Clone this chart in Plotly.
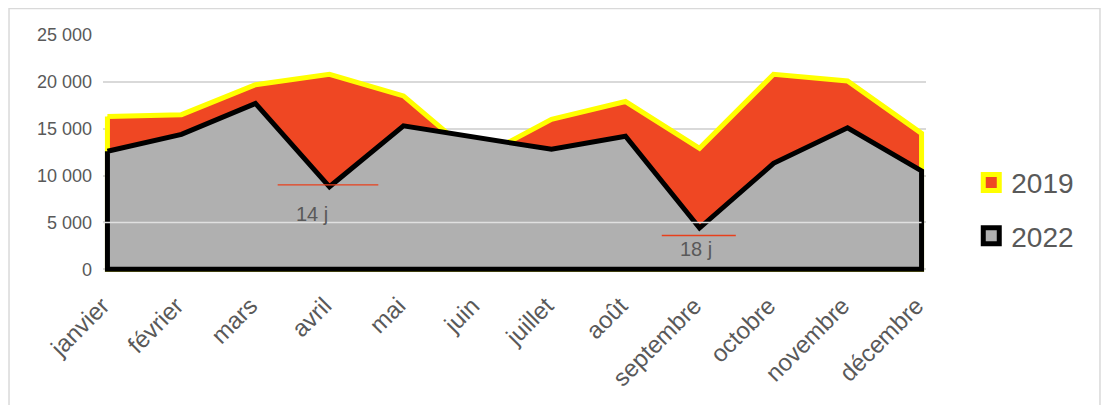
import plotly.graph_objects as go

months = ["janvier", "février", "mars", "avril", "mai", "juin", "juillet",
          "août", "septembre", "octobre", "novembre", "décembre"]
v2019 = [16300, 16500, 19700, 20800, 18500, 11800, 16000, 17900, 12900, 20800, 20100, 14500]
v2022 = [12600, 14400, 17700, 8800, 15300, 14000, 12800, 14200, 4400, 11300, 15100, 10500]
years = ["2019", "2022"]
gap_labels = ["14 j", "18 j"]

FONT = "Liberation Sans, Arial, sans-serif"
TXT = "#595959"
RED = "#EF4723"
YEL = "#FFFF00"
GREY = "#B0B0B0"

idx = list(range(len(months)))


def closed(vals):
    xs = idx + [idx[-1], idx[0], idx[0]]
    ys = vals + [0, 0, vals[0]]
    return xs, ys


fig = go.Figure()
x1, y1 = closed(v2019)
fig.add_trace(go.Scatter(x=x1, y=y1, mode="lines", fill="toself", fillcolor=RED,
                         line=dict(color=YEL, width=5), showlegend=False, hoverinfo="skip"))
x2, y2 = closed(v2022)
fig.add_trace(go.Scatter(x=x2, y=y2, mode="lines", fill="toself", fillcolor=GREY,
                         line=dict(color="black", width=5), showlegend=False, hoverinfo="skip"))

# legend proxies
fig.add_trace(go.Scatter(x=[None], y=[None], mode="markers", name=years[0], legendgroup="a",
                         marker=dict(symbol="square", size=16, color=RED, line=dict(color=YEL, width=5))))
fig.add_trace(go.Scatter(x=[None], y=[None], mode="markers", name=years[1], legendgroup="b",
                         marker=dict(symbol="square", size=16, color=GREY, line=dict(color="black", width=5))))

# 5000 light line over data
fig.add_shape(type="line", xref="x", yref="y", x0=-0.23, x1=11, y0=5000, y1=5000,
              line=dict(color="#E0E0E0", width=1.5), layer="above")

# gap markers
fig.add_shape(type="line", xref="x", yref="y", x0=2.3, x1=3.66, y0=9000, y1=9000,
              line=dict(color="#E8401C", width=1.2), layer="above")
fig.add_shape(type="line", xref="x", yref="y", x0=7.49, x1=8.49, y0=3600, y1=3600,
              line=dict(color="#E8401C", width=1.5), layer="above")
fig.add_annotation(x=2.77, y=5900, text=gap_labels[0], showarrow=False,
                   font=dict(size=20, color=TXT, family=FONT))
fig.add_annotation(x=7.95, y=2200, text=gap_labels[1], showarrow=False,
                   font=dict(size=20, color=TXT, family=FONT))

# outer border
fig.add_shape(type="rect", xref="paper", yref="paper", x0=-0.1142, x1=1.2114, y0=-0.7, y1=1.1115,
              line=dict(color="#D9D9D9", width=1.5), layer="below")

fig.update_layout(
    width=1109, height=405,
    margin=dict(l=95, r=191, t=27, b=140),
    paper_bgcolor="white", plot_bgcolor="white",
    separators=", ",
    font=dict(family=FONT, color=TXT),
    xaxis=dict(range=[-0.06, 11.06], tickmode="array", tickvals=idx, ticktext=months,
               tickangle=-45, tickfont=dict(size=24, color=TXT, family=FONT),
               showgrid=False, zeroline=False, showline=False, ticks="",
               ticklabelstandoff=13, ticklabelshift=-5),
    yaxis=dict(range=[-400, 25000], tickvals=[0, 5000, 10000, 15000, 20000, 25000],
               tickformat=",d", tickfont=dict(size=18, color=TXT, family=FONT),
               showgrid=True, gridcolor="#D9D9D9", gridwidth=1.5, zeroline=False,
               showline=False, ticks="", ticklabelstandoff=10),
    legend=dict(x=1.055, y=0.268, xanchor="left", yanchor="middle",
                font=dict(size=28, color=TXT, family=FONT), tracegroupgap=14,
                bgcolor="rgba(0,0,0,0)", itemwidth=30),
)

fig.write_html("out.html")
